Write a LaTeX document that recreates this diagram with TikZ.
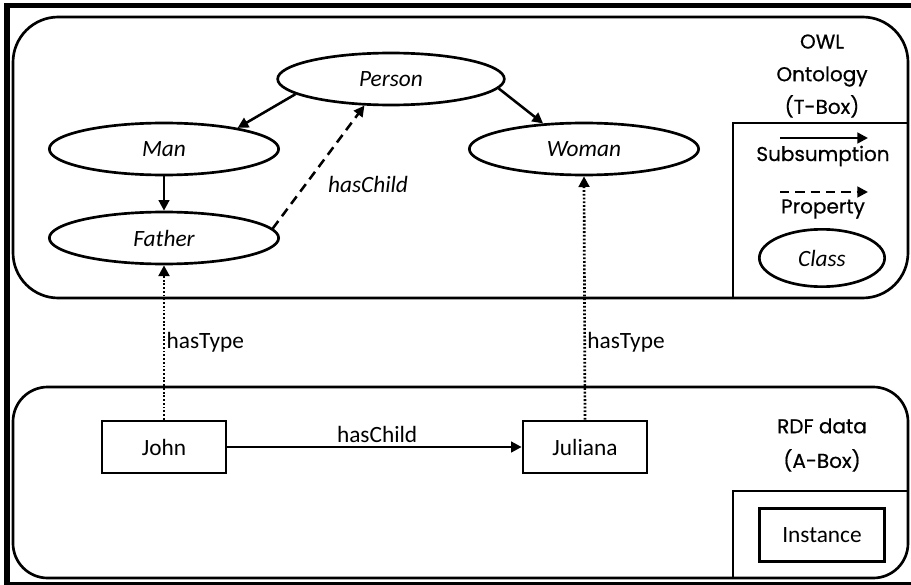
\documentclass[tikz,border=0pt]{standalone}
\usepackage{fontspec}
\setmainfont{Carlito}
\newfontfamily\handfont[FakeBold=0.6]{Poppins}
\usetikzlibrary{shapes.geometric,arrows.meta}

\begin{document}
\begin{tikzpicture}[x=0.75pt,y=-0.75pt,
  cls/.style={ellipse, draw, line width=2pt, minimum width=172pt, minimum height=39pt,
    inner sep=0pt, font=\fontsize{17.5}{20}\selectfont\itshape},
  inst/.style={rectangle, draw, line width=2pt, minimum width=93pt, minimum height=39pt,
    inner sep=0pt, font=\fontsize{17.5}{20}\selectfont},
  region/.style={draw, line width=2pt},
  legendbox/.style={draw, line width=2pt},
  tip/.style={-{Triangle[length=8pt,width=8pt]}},
  sub/.style={line width=1.9pt, tip},
  prop/.style={line width=1.9pt, tip, dash pattern=on 7pt off 4.5pt},
  typ/.style={line width=2pt, tip, dash pattern=on 1.4pt off 1.4pt},
  lbl/.style={font=\fontsize{17.5}{20}\selectfont, inner sep=1pt},
  hand/.style={font=\handfont\fontsize{15}{24.5}\selectfont, align=center, inner sep=0pt}
]
\clip (0,0) rectangle (911,585);

% outer frame
\draw[line width=4pt] (7,5.5) rectangle (925,584.5);

% T-Box region and its legend
\draw[region, rounded corners=34pt] (13,17) rectangle (908,298);
\draw[legendbox] (733,298) -- (733,123) -- (908,123);
\node[hand] (tboxlabel) at (822,76) {OWL\\Ontology\\(T-Box)};

% A-Box region and its legend
\draw[region, rounded corners=26pt] (13,387) rectangle (908,578);
\draw[legendbox] (733,578) -- (733,491) -- (908,491);
\node[hand, font=\handfont\fontsize{15}{26}\selectfont] (aboxlabel) at (822,445) {RDF data\\(A-Box)};

% classes
\node[cls, minimum width=170pt] (person) at (391,79) {Person};
\node[cls] (man) at (164,149) {Man};
\node[cls] (father) at (164,238) {Father};
\node[cls] (woman) at (584,149) {Woman};

% instances
\node[inst] (john) at (164,447) {John};
\node[inst] (juliana) at (585,447) {Juliana};

% subsumption
\draw[sub] (person.189) -- (man.16);
\draw[sub] (person.355) -- (woman.148);
\draw[sub] (man.south) -- (father.north);

% property between classes
\draw[prop] (father.5) -- (person.225)
  node[pos=0.4, anchor=west, lbl, font=\fontsize{17.5}{20}\selectfont\itshape, xshift=12pt, yshift=-4pt] (pchild) {hasChild};

% typing links
\draw[typ] (john.north) -- (father.south)
  node[midway, anchor=west, lbl] (typeA) {hasType};
\draw[typ] (juliana.north) -- (woman.south)
  node[pos=0.32, anchor=west, lbl] (typeB) {hasType};

% property between instances
\draw[sub] (john.east) -- (juliana.west)
  node[midway, above, lbl, inner sep=2pt, xshift=2pt] (ichild) {hasChild};

% legend: T-Box
\coordinate (s1) at (780,138);
\coordinate (s2) at (868,138);
\draw[sub] (s1) -- (s2);
\node[hand] (subtext) at (823,156) {Subsumption};
\coordinate (p1) at (780,192);
\coordinate (p2) at (868,192);
\draw[prop] (p1) -- (p2);
\node[hand] (proptext) at (823,209) {Property};
\node[cls, minimum width=94pt, minimum height=43pt] (classkey) at (822,258) {Class};

% legend: A-Box
\node[inst, minimum width=94pt, minimum height=40pt] (instkey) at (822,535) {Instance};
\end{tikzpicture}
\end{document}
